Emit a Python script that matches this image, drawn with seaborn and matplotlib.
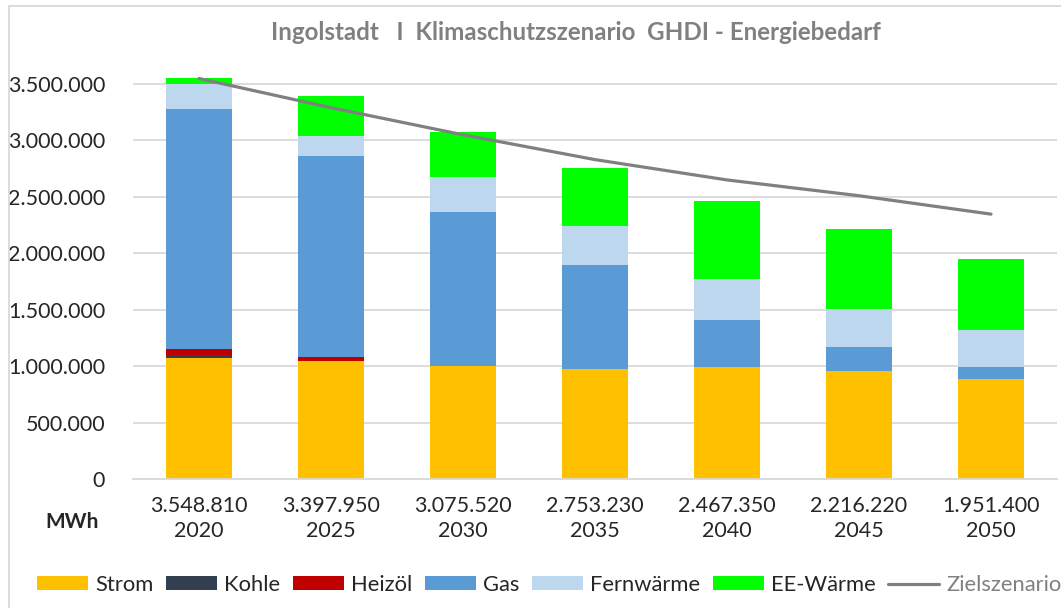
import numpy as np
import pandas as pd
import matplotlib
matplotlib.use("Agg")
import matplotlib.pyplot as plt
import seaborn as sns
from matplotlib.ticker import FuncFormatter, MultipleLocator
from matplotlib.patches import Patch, Rectangle
from matplotlib.lines import Line2D

# ---- data (MWh) ----
years = ["2020", "2025", "2030", "2035", "2040", "2045", "2050"]
totals = [3548810, 3397950, 3075520, 2753230, 2467350, 2216220, 1951400]
strom = [1068000, 1042000, 1000000, 977000, 988000, 953000, 885000]
kohle = [30000, 3000, 0, 0, 0, 0, 0]
heizoel = [50000, 35000, 0, 0, 0, 0, 0]
gas = [2129000, 1786000, 1362000, 923000, 421000, 216000, 103000]
fernwaerme = [222000, 171000, 311000, 341000, 364000, 341000, 329000]
ee_waerme = [49810, 360950, 402520, 512230, 694350, 706220, 634400]
zielszenario = [3548810, 3290000, 3050000, 2830000, 2650000, 2510000, 2347000]

series_names = ["Strom", "Kohle", "Heizöl", "Gas", "Fernwärme", "EE-Wärme"]
series_vals = [strom, kohle, heizoel, gas, fernwaerme, ee_waerme]
colors = ["#FFC000", "#333F50", "#C00000", "#5B9BD5", "#BDD7EE", "#00FF00"]
line_color = "#808080"

def fmt(v):
    return f"{int(round(v)):,}".replace(",", ".")

sns.set_style("white")
plt.rcParams["font.family"] = ["Lato", "DejaVu Sans"]

W, H = 1061, 608
fig = plt.figure(figsize=(W / 100, H / 100), dpi=100)

ymax = 3700000
px_per_unit = (479 - 84) / 3500000
top_px = 479 - ymax * px_per_unit
ax = fig.add_axes([133 / W, (H - 479) / H, (1057 - 133) / W, (479 - top_px) / H])

cum = np.zeros(len(years))
cums = []
for vals in series_vals:
    cum = cum + np.array(vals, dtype=float)
    cums.append(cum.copy())

# draw cumulative layers from top to bottom
for name, c, col in reversed(list(zip(series_names, cums, colors))):
    d = pd.DataFrame({"year": years, "value": c})
    sns.barplot(data=d, x="year", y="value", color=col, saturation=1,
                width=0.5, errorbar=None, order=years, ax=ax, linewidth=0, zorder=2)

ld = pd.DataFrame({"pos": np.arange(len(years)), "ziel": zielszenario})
sns.lineplot(data=ld, x="pos", y="ziel", color=line_color, linewidth=2.3, ax=ax, zorder=3)

ax.set_xlim(-0.5, len(years) - 0.5)
ax.set_ylim(0, ymax)
ax.yaxis.set_major_locator(MultipleLocator(500000))
ax.yaxis.set_major_formatter(FuncFormatter(lambda v, p: fmt(v) if v <= 3500000 else ""))
ax.grid(axis="y", color="#D9D9D9", linewidth=1.3, zorder=0)
ax.set_axisbelow(True)
for s in ["top", "right", "left"]:
    ax.spines[s].set_visible(False)
ax.spines["bottom"].set_color("#D9D9D9")
ax.spines["bottom"].set_linewidth(1.3)
ax.set_xlabel("")
ax.set_ylabel("")
ax.set_xticks(np.arange(len(years)))
ax.set_xticklabels([f"{fmt(t)}\n{y}" for t, y in zip(totals, years)], linespacing=1.35)
ax.tick_params(axis="x", length=0, pad=12, labelsize=15.5, labelcolor="#262626")
ax.tick_params(axis="y", length=0, pad=20, labelsize=15.5, labelcolor="#262626")

# MWh label
fig.text(45 / W, 1 - 522 / H, "MWh", fontsize=15, fontweight="bold", color="#262626",
         ha="left", va="center")

# title
fig.text(576 / W, 1 - 33 / H, "Ingolstadt   I  Klimaschutzszenario  GHDI - Energiebedarf",
         fontsize=17.4, fontweight="bold", color="#808080", ha="center", va="center")

# chart border
fig.patches.append(Rectangle((9 / W, -0.05), 1.2, 1 - 6 / H + 0.05, transform=fig.transFigure,
                             fill=False, edgecolor="#D9D9D9", linewidth=1.3))

# legend
handles = [Patch(facecolor=c, edgecolor="none") for c in colors]
handles.append(Line2D([0], [0], color=line_color, linewidth=2.3))
labels = series_names + ["Zielszenario"]
leg = fig.legend(handles, labels, loc="center left", bbox_to_anchor=(37 / W, 1 - 585 / H),
                 ncol=7, frameon=False, fontsize=15.8, handlelength=2.33, handleheight=0.6,
                 handletextpad=0.32, columnspacing=0.57, borderpad=0, borderaxespad=0)
for t in leg.get_texts():
    t.set_color("#262626")
leg.get_texts()[-1].set_color("#808080")

fig.savefig("out.png", dpi=100)
